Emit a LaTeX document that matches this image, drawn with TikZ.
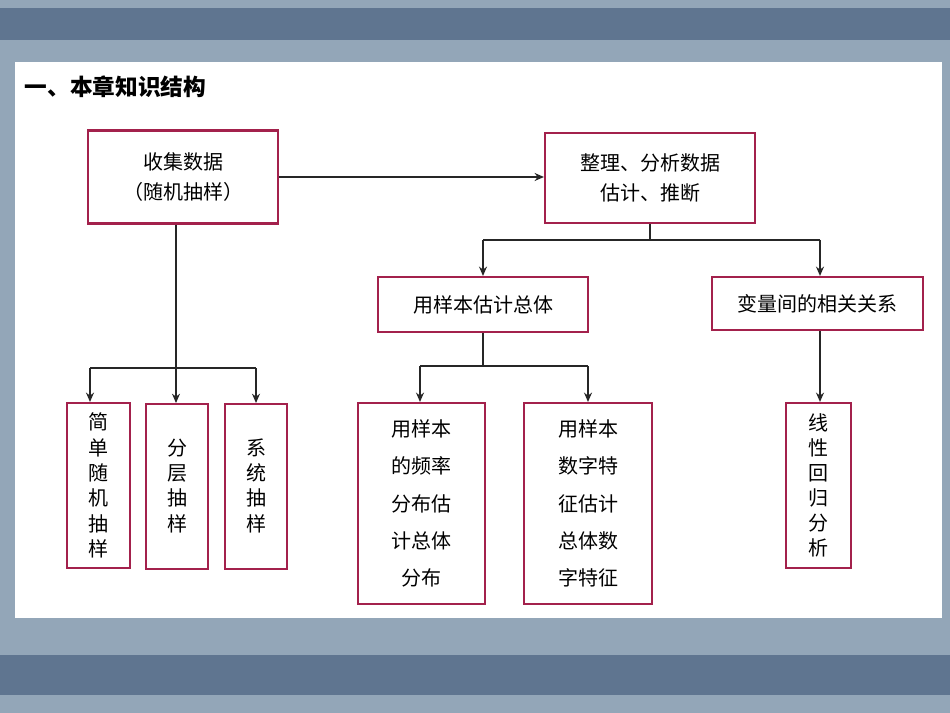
\documentclass[tikz,border=0pt]{standalone}
\usepackage{fontspec}
\setmainfont{Noto Sans CJK SC}
\usetikzlibrary{arrows.meta}
\begin{document}
\begin{tikzpicture}[x=0.75pt,y=-0.75pt,
  box/.style={draw=boxred,line width=1.6pt,fill=white,inner sep=0pt,font=\fontsize{15}{23}\selectfont,align=center},
  conn/.style={line width=1pt,draw=black!85},
  arr/.style={conn,-{Stealth[length=7pt,width=6pt]}}]
\definecolor{boxred}{HTML}{A3214C}
\definecolor{bg}{HTML}{93A6B8}
\definecolor{band}{HTML}{5F7590}
\fill[bg] (0,0) rectangle (950,713);
\fill[band] (0,8) rectangle (950,40);
\fill[band] (0,655) rectangle (950,695);
\fill[white] (15,62) rectangle (942,618);
\node[anchor=west,font=\fontsize{17}{19}\selectfont\bfseries] (title) at (20,87) {一、本章知识结构};
\node[box,minimum width=142.5pt,minimum height=69.75pt] (collect) at (183,177) {收集数据\\（随机抽样）};
\node[box,minimum width=157.5pt,minimum height=67.5pt] (anal) at (650,178) {整理、分析数据\\估计、推断};
\node[box,minimum width=157.5pt,minimum height=41.25pt] (est) at (483,304.5) {用样本估计总体};
\node[box,minimum width=158.25pt,minimum height=39.75pt] (corr) at (817.5,303.5) {变量间的相关关系};
\node[box,minimum width=47.25pt,minimum height=123.75pt,font=\fontsize{15}{19}\selectfont] (s1) at (98.5,485.5) {简\\单\\随\\机\\抽\\样};
\node[box,minimum width=46.5pt,minimum height=123.75pt,anchor=north,font=\fontsize{15}{19}\selectfont] (s2) at (177,403) {\\[-8pt]分\\层\\抽\\样};
\node[box,minimum width=46.5pt,minimum height=123.75pt,anchor=north,font=\fontsize{15}{19}\selectfont] (s3) at (256,403) {\\[-8pt]系\\统\\抽\\样};
\node[box,minimum width=95.25pt,minimum height=150.75pt,font=\fontsize{15}{28}\selectfont] (f1) at (421.5,503.5) {用样本\\的频率\\分布估\\计总体\\分布};
\node[box,minimum width=96pt,minimum height=150.75pt,font=\fontsize{15}{28}\selectfont] (f2) at (588,503.5) {用样本\\数字特\\征估计\\总体数\\字特征};
\node[box,minimum width=48.75pt,minimum height=123.75pt,font=\fontsize{15}{18.75}\selectfont] (lin) at (818.5,485.5) {线\\性\\回\\归\\分\\析};
\draw[arr] (collect.east) -- (collect.east -| anal.west);
\coordinate (j1) at (176,368);
\draw[conn] (collect.south -| j1) -- (j1);
\draw[conn] (90,368) -- (256,368);
\draw[arr] (90,368) -- (s1.north -| 90,0);
\draw[arr] (j1) -- (s2.north -| j1);
\draw[arr] (256,368) -- (s3.north);
\coordinate (j2) at (650,240);
\draw[conn] (anal.south) -- (j2);
\draw[conn] (483,240) -- (820,240);
\draw[arr] (483,240) -- (est.north);
\draw[arr] (820,240) -- (corr.north -| 820,0);
\coordinate (j3) at (483,366);
\draw[conn] (est.south) -- (j3);
\draw[conn] (420,366) -- (588,366);
\draw[arr] (420,366) -- (f1.north -| 420,0);
\draw[arr] (588,366) -- (f2.north);
\draw[arr] (corr.south -| 820,0) -- (lin.north -| 820,0);
\end{tikzpicture}
\end{document}
